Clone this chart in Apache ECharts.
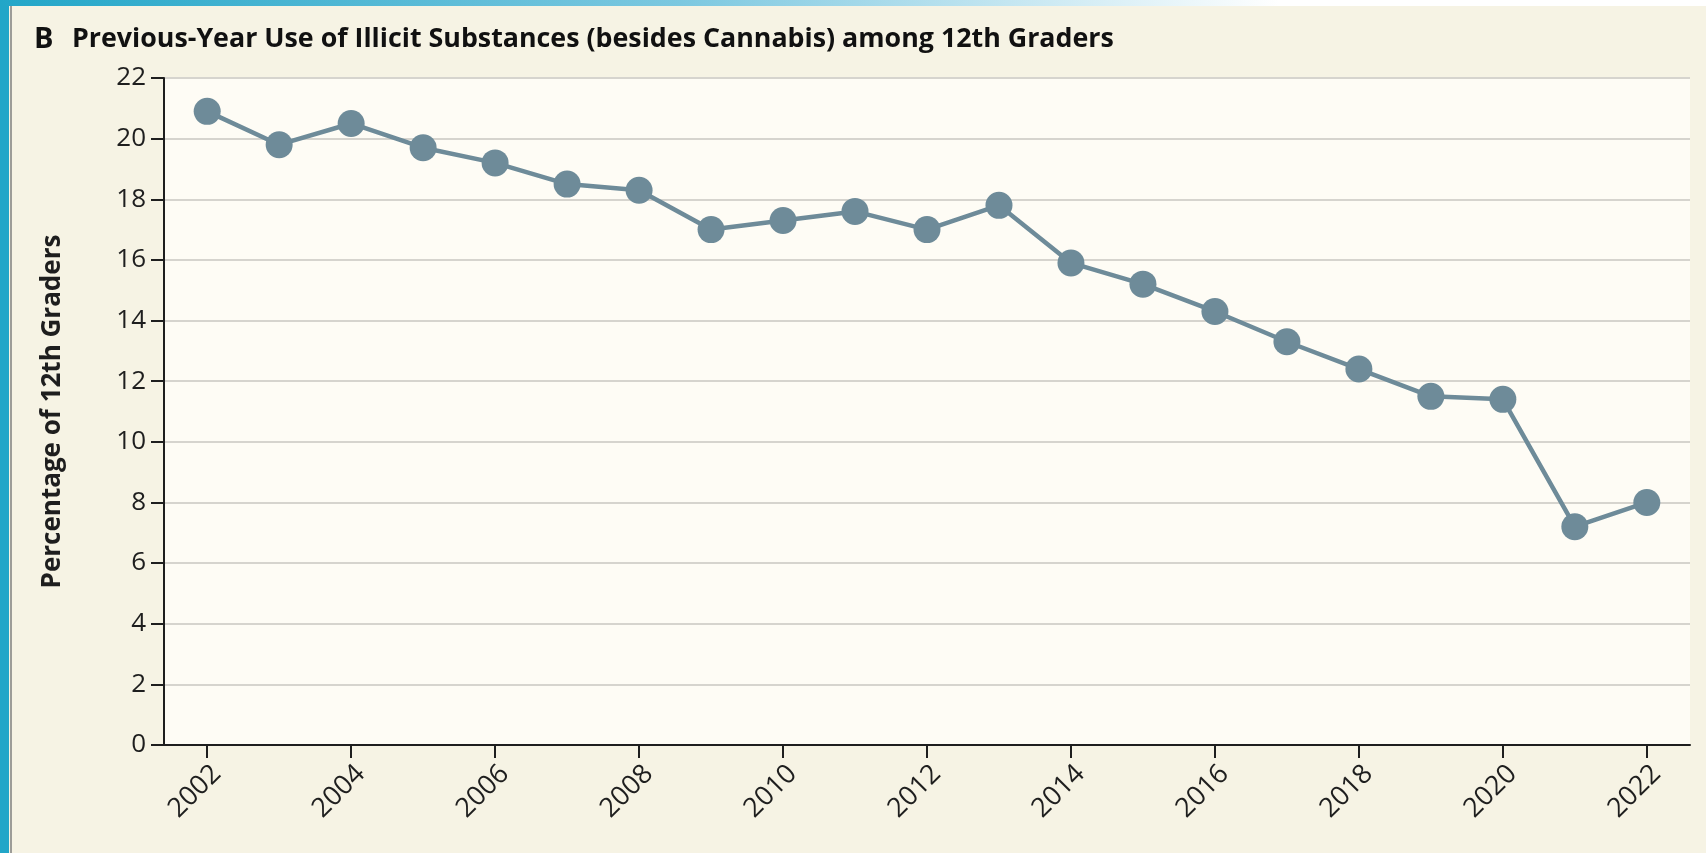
<!DOCTYPE html>
<html>
<head>
<meta charset="utf-8">
<script src="https://cdn.jsdelivr.net/npm/echarts@6/dist/echarts.min.js"></script>
<style>
html, body { margin: 0; padding: 0; background: #F6F3E4; }
#chart { width: 1706px; height: 853px; }
</style>
</head>
<body>
<div id="chart"></div>
<script>
// Data
var years = [2002, 2003, 2004, 2005, 2006, 2007, 2008, 2009, 2010, 2011, 2012,
             2013, 2014, 2015, 2016, 2017, 2018, 2019, 2020, 2021, 2022];
var usePct = [20.9, 19.8, 20.5, 19.7, 19.2, 18.5, 18.3, 17.0, 17.3, 17.6, 17.0,
              17.8, 15.9, 15.2, 14.3, 13.3, 12.4, 11.5, 11.4, 7.2, 8.0];
var yearTicks = [2002, 2004, 2006, 2008, 2010, 2012, 2014, 2016, 2018, 2020, 2022];
var panelLetter = 'B';
var titleText = 'Previous-Year Use of Illicit Substances (besides Cannabis) among 12th Graders';
var yName = 'Percentage of 12th Graders';

var fontName = 'Open Sans';
var dark = '#1E1E1E';
var markColor = '#6E8B99';

var chart = echarts.init(document.getElementById('chart'));

var option = {
    backgroundColor: '#F6F3E4',
    textStyle: { fontFamily: fontName },
    animation: false,
    // page decoration: blue strip on the left, gradient band on top
    graphic: [
        { type: 'rect', shape: { x: 0, y: 0, width: 9, height: 853 }, style: { fill: '#22A6C8' } },
        { type: 'rect', shape: { x: 10, y: 6, width: 2, height: 847 }, style: { fill: '#9C9C98' } },
        {
            type: 'rect', shape: { x: 0, y: 0, width: 1706, height: 6 },
            style: {
                fill: new echarts.graphic.LinearGradient(0, 0, 1, 0, [
                    { offset: 0, color: '#22A6C8' },
                    { offset: 0.4, color: '#7CC8E0' },
                    { offset: 0.75, color: '#FFFFFF' },
                    { offset: 1, color: '#FFFFFF' }
                ])
            }
        }
    ],
    title: {
        left: 29,
        top: 20,
        text: '{b|' + panelLetter + '}{t|' + titleText + '}',
        textStyle: {
            rich: {
                b: { fontFamily: fontName, fontSize: 29, fontWeight: 'bold', color: '#111', width: 38 },
                t: { fontFamily: fontName, fontSize: 26.8, fontWeight: 'bold', color: '#111' }
            }
        }
    },
    grid: {
        left: 164,
        right: 16,
        top: 78,
        bottom: 108,
        show: true,
        backgroundColor: '#FEFCF5',
        borderWidth: 0
    },
    xAxis: {
        type: 'value',
        min: 2001.4,
        max: 2022.6,
        axisLine: { show: true, onZero: false, lineStyle: { color: dark, width: 2 } },
        axisTick: { show: true, customValues: yearTicks, length: 13, lineStyle: { color: dark, width: 2 } },
        axisLabel: {
            customValues: yearTicks,
            rotate: 45,
            margin: 15,
            verticalAlign: 'top',
            fontSize: 27,
            fontWeight: 500,
            color: dark,
            fontFamily: fontName,
            formatter: function (v) { return String(v); }
        },
        splitLine: { show: false }
    },
    yAxis: {
        type: 'value',
        min: 0,
        max: 22,
        interval: 2,
        name: yName,
        nameLocation: 'middle',
        nameGap: 98,
        nameTextStyle: { fontSize: 26, fontWeight: 'bold', color: dark, fontFamily: fontName },
        axisLine: { show: true, lineStyle: { color: dark, width: 2 } },
        axisTick: { show: true, length: 13, lineStyle: { color: dark, width: 2 } },
        axisLabel: { margin: 18, fontSize: 26, fontWeight: 500, color: dark, fontFamily: fontName },
        splitLine: { show: true, lineStyle: { color: '#D6D4CE', width: 2 } }
    },
    series: [
        {
            type: 'line',
            data: years.map(function (y, i) { return [y, usePct[i]]; }),
            symbol: 'circle',
            symbolSize: 27,
            lineStyle: { color: markColor, width: 4.5 },
            itemStyle: { color: markColor }
        }
    ]
};

chart.setOption(option);
</script>
</body>
</html>
